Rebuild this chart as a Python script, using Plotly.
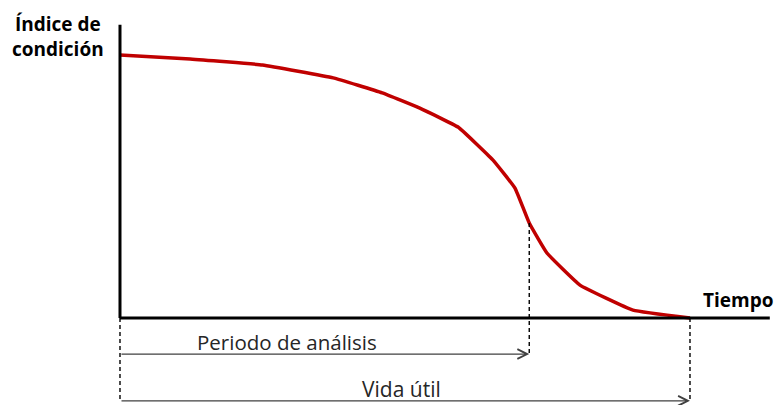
import plotly.graph_objects as go

# curve: time (0..10) vs condition index (0..100)
tiempo = [0, 1.23, 2.5, 3.74, 4.6, 5.26, 5.93, 6.54, 6.93, 7.18, 7.49, 8.07, 9.0, 10]
indice = [100, 98.5, 96.2, 91.3, 85.6, 79.8, 72.6, 60.1, 49.4, 36.1, 24.7, 12.5, 3.0, 0]

fin_analisis = 7.18
vida_util = 10

fig = go.Figure()

fig.add_trace(go.Scatter(
    x=tiempo, y=indice, mode="lines",
    line=dict(color="#C00000", width=3.5, shape="spline", smoothing=0.3),
    hoverinfo="skip",
))

# axes drawn as shapes
fig.add_shape(type="line", x0=0, x1=0, y0=0, y1=111.5, line=dict(color="black", width=3))
fig.add_shape(type="line", x0=0, x1=11.4, y0=0, y1=0, line=dict(color="black", width=3))

# dashed guides
guia = dict(color="black", width=1.4, dash="4px,3px")
fig.add_shape(type="line", x0=fin_analisis, x1=fin_analisis, y0=36.1, y1=-13.7, line=guia)
fig.add_shape(type="line", x0=vida_util, x1=vida_util, y0=0, y1=-31.5, line=guia)
fig.add_shape(type="line", x0=0, x1=0, y0=0, y1=-31.5, line=guia)

# arrows
for xend, yarr in [(fin_analisis, -13.7), (vida_util, -31.5)]:
    fig.add_annotation(x=xend, y=yarr, ax=0, ay=yarr, xref="x", yref="y",
                       axref="x", ayref="y", text="", showarrow=True,
                       arrowhead=5, arrowsize=1.6, arrowwidth=1.2, arrowcolor="#404040")

fig.add_annotation(x=2.93, y=-9.1, text="Periodo de análisis", showarrow=False,
                   font=dict(family="Open Sans", size=20.5, color="#262626"))
fig.add_annotation(x=4.93, y=-27.0, text="Vida útil", showarrow=False,
                   font=dict(family="Open Sans", size=21, color="#262626"))
fig.add_annotation(x=-0.25, y=117.6, text="<b>Índice de<br>condición</b>", showarrow=False,
                   xanchor="right", yanchor="top", align="center",
                   font=dict(family="Open Sans", size=19, color="black"))
fig.add_annotation(x=11.5, y=1.0, text="<b>Tiempo</b>", showarrow=False,
                   xanchor="right", yanchor="bottom",
                   font=dict(family="Open Sans", size=19, color="black"))

fig.update_layout(
    width=776, height=405,
    margin=dict(l=0, r=0, t=0, b=0),
    paper_bgcolor="white", plot_bgcolor="white",
    showlegend=False,
    xaxis=dict(range=[-2.105, 11.509], visible=False, fixedrange=True),
    yaxis=dict(range=[-33.08, 120.91], visible=False, fixedrange=True),
)

# drop the default page margin so the figure fills the window exactly
fig.write_html("out.html", config={"displayModeBar": False},
               post_script="document.body.style.margin='0';document.body.style.overflow='hidden';")
